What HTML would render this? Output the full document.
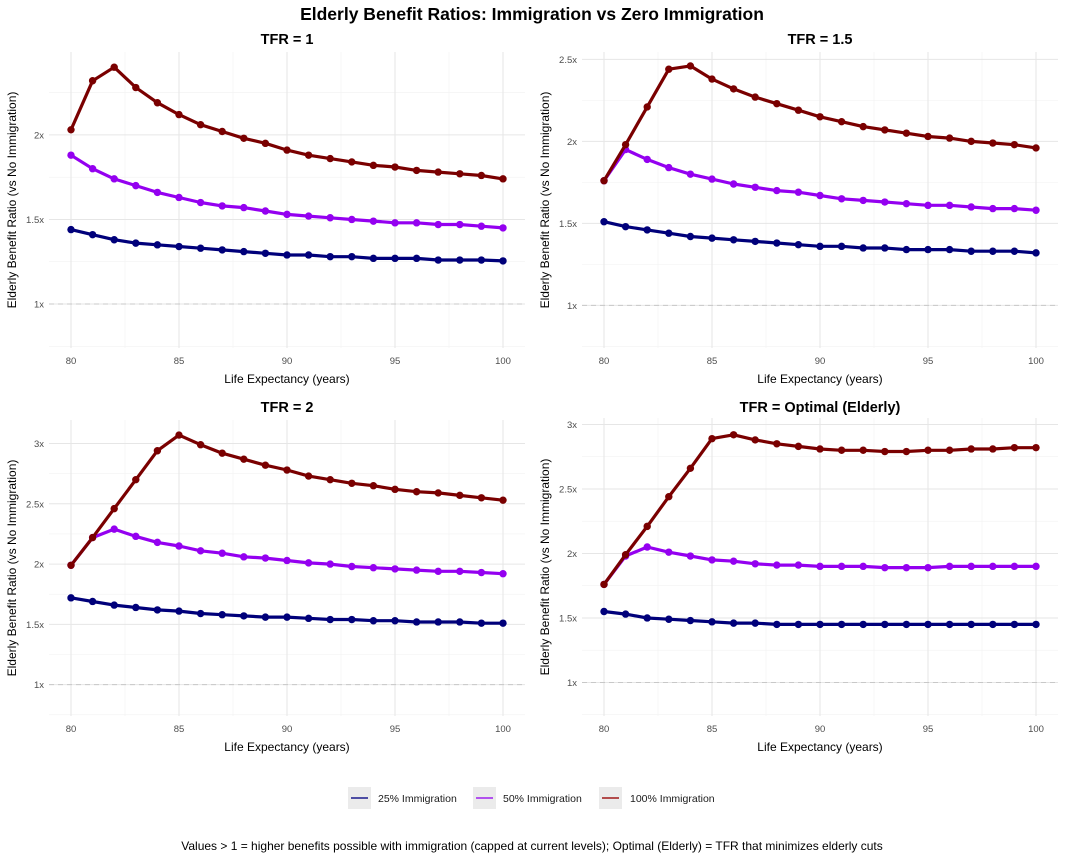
<!DOCTYPE html>
<html><head><meta charset="utf-8">
<style>
html,body{margin:0;padding:0;background:#fff;}
svg text{font-family:"Liberation Sans",Arial,sans-serif;}
</style></head>
<body>
<svg id="chart" width="1065" height="855" viewBox="0 0 1065 855" xmlns="http://www.w3.org/2000/svg">
<text x="532" y="20" text-anchor="middle" font-size="17.5" font-weight="bold" fill="#000">Elderly Benefit Ratios: Immigration vs Zero Immigration</text>
<g>
<rect x="348" y="787" width="23" height="22" fill="#ebebeb"/>
<line x1="351" y1="798" x2="368" y2="798" stroke="#1a1a8c" stroke-width="1.5"/>
<text x="378" y="802" font-size="10.5" fill="#1a1a1a">25% Immigration</text>
<rect x="473" y="787" width="23" height="22" fill="#ebebeb"/>
<line x1="476" y1="798" x2="493" y2="798" stroke="#a020f0" stroke-width="1.5"/>
<text x="503" y="802" font-size="10.5" fill="#1a1a1a">50% Immigration</text>
<rect x="599" y="787" width="23" height="22" fill="#ebebeb"/>
<line x1="602" y1="798" x2="619" y2="798" stroke="#a01818" stroke-width="1.5"/>
<text x="630" y="802" font-size="10.5" fill="#1a1a1a">100% Immigration</text>
</g>
<text x="532" y="850" text-anchor="middle" font-size="12" fill="#000">Values &gt; 1 = higher benefits possible with immigration (capped at current levels); Optimal (Elderly) = TFR that minimizes elderly cuts</text>
</svg>
<script>
const years = [80,81,82,83,84,85,86,87,88,89,90,91,92,93,94,95,96,97,98,99,100];
const seriesNames = ['25% Immigration','50% Immigration','100% Immigration'];
const seriesColors = ['#00007a','#9400f0','#7a0000'];
const panelTitles = ['TFR = 1','TFR = 1.5','TFR = 2','TFR = Optimal (Elderly)'];
const p1Blue = [1.44,1.41,1.38,1.36,1.35,1.34,1.33,1.32,1.31,1.30,1.29,1.29,1.28,1.28,1.27,1.27,1.27,1.26,1.26,1.26,1.255];
const p1Purple = [1.88,1.80,1.74,1.70,1.66,1.63,1.60,1.58,1.57,1.55,1.53,1.52,1.51,1.50,1.49,1.48,1.48,1.47,1.47,1.46,1.45];
const p1Red = [2.03,2.32,2.40,2.28,2.19,2.12,2.06,2.02,1.98,1.95,1.91,1.88,1.86,1.84,1.82,1.81,1.79,1.78,1.77,1.76,1.74];
const p2Blue = [1.51,1.48,1.46,1.44,1.42,1.41,1.40,1.39,1.38,1.37,1.36,1.36,1.35,1.35,1.34,1.34,1.34,1.33,1.33,1.33,1.32];
const p2Purple = [1.76,1.95,1.89,1.84,1.80,1.77,1.74,1.72,1.70,1.69,1.67,1.65,1.64,1.63,1.62,1.61,1.61,1.60,1.59,1.59,1.58];
const p2Red = [1.76,1.98,2.21,2.44,2.46,2.38,2.32,2.27,2.23,2.19,2.15,2.12,2.09,2.07,2.05,2.03,2.02,2.00,1.99,1.98,1.96];
const p3Blue = [1.72,1.69,1.66,1.64,1.62,1.61,1.59,1.58,1.57,1.56,1.56,1.55,1.54,1.54,1.53,1.53,1.52,1.52,1.52,1.51,1.51];
const p3Purple = [1.99,2.22,2.29,2.23,2.18,2.15,2.11,2.09,2.06,2.05,2.03,2.01,2.00,1.98,1.97,1.96,1.95,1.94,1.94,1.93,1.92];
const p3Red = [1.99,2.22,2.46,2.70,2.94,3.07,2.99,2.92,2.87,2.82,2.78,2.73,2.70,2.67,2.65,2.62,2.60,2.59,2.57,2.55,2.53];
const p4Blue = [1.55,1.53,1.50,1.49,1.48,1.47,1.46,1.46,1.45,1.45,1.45,1.45,1.45,1.45,1.45,1.45,1.45,1.45,1.45,1.45,1.45];
const p4Purple = [1.76,1.98,2.05,2.01,1.98,1.95,1.94,1.92,1.91,1.91,1.90,1.90,1.90,1.89,1.89,1.89,1.90,1.90,1.90,1.90,1.90];
const p4Red = [1.76,1.99,2.21,2.44,2.66,2.89,2.92,2.88,2.85,2.83,2.81,2.80,2.80,2.79,2.79,2.80,2.80,2.81,2.81,2.82,2.82];
const yTicks1 = [1,1.5,2];
const yTicks2 = [1,1.5,2,2.5];
const yTicks3 = [1,1.5,2,2.5,3];
const yTicks4 = [1,1.5,2,2.5,3];
const xTicks = [80,85,90,95,100];

const NS='http://www.w3.org/2000/svg';
const svg=document.getElementById('chart');
function mk(tag,attrs,parent){const e=document.createElementNS(NS,tag);for(const k in attrs)e.setAttribute(k,attrs[k]);(parent||svg).appendChild(e);return e;}

const panels=[
 {left:49,right:525,top:52,bottom:348,ymin:0.74,ymax:2.49,ticks:yTicks1,data:[p1Blue,p1Purple,p1Red],titleY:44},
 {left:582,right:1058,top:52,bottom:348,ymin:0.74,ymax:2.545,ticks:yTicks2,data:[p2Blue,p2Purple,p2Red],titleY:44},
 {left:49,right:525,top:420,bottom:716,ymin:0.74,ymax:3.195,ticks:yTicks3,data:[p3Blue,p3Purple,p3Red],titleY:412},
 {left:582,right:1058,top:418,bottom:716,ymin:0.74,ymax:3.05,ticks:yTicks4,data:[p4Blue,p4Purple,p4Red],titleY:412}
];
const x80=[71,604,71,604], x100=[503,1036,503,1036];

panels.forEach((p,i)=>{
  const g=mk('g',{});
  
  
  const xs=(x100[i]-x80[i])/20;
  const X=v=>x80[i]+(v-80)*xs;
  const Y=v=>p.bottom-(v-p.ymin)/(p.ymax-p.ymin)*(p.bottom-p.top);
  const tk=p.ticks;
  const minors=[tk[0]-0.25];
  tk.forEach(t=>minors.push(t+0.25));
  minors.forEach(m=>{ if(m>=p.ymin&&m<=p.ymax){mk('line',{x1:p.left,x2:p.right,y1:Y(m),y2:Y(m),stroke:'#f2f2f2','stroke-width':0.6},g);}});
  for(let v=82.5;v<101;v+=5){mk('line',{x1:X(v),x2:X(v),y1:p.top,y2:p.bottom,stroke:'#f2f2f2','stroke-width':0.6},g);}
  tk.forEach(t=>{
    const l=mk('line',{x1:p.left,x2:p.right,y1:Y(t),y2:Y(t),stroke:'#e6e6e6','stroke-width':1},g);
    
    const tx=mk('text',{x:p.left-5,y:Y(t)+3.5,'text-anchor':'end','font-size':9.5,fill:'#4d4d4d'},g);
    tx.textContent=t+'x';
    
    
  });
  xTicks.forEach(t=>{
    mk('line',{x1:X(t),x2:X(t),y1:p.top,y2:p.bottom,stroke:'#e6e6e6','stroke-width':1},g);
    const tx=mk('text',{x:X(t),y:p.bottom+16,'text-anchor':'middle','font-size':9.5,fill:'#4d4d4d'},g);
    tx.textContent=t;
    
    
  });
  const ref=mk('line',{x1:p.left,x2:p.right,y1:Y(1),y2:Y(1),stroke:'#c8c8c8','stroke-width':1,'stroke-dasharray':'5,4'},g);
  
  
  const tt=mk('text',{x:(x80[i]+x100[i])/2,y:p.titleY,'text-anchor':'middle','font-size':14.5,'font-weight':'bold',fill:'#000'},g);
  tt.textContent=panelTitles[i];
  
  
  const xt=mk('text',{x:(x80[i]+x100[i])/2,y:p.bottom+35,'text-anchor':'middle','font-size':12,fill:'#000'},g);
  xt.textContent='Life Expectancy (years)';
  
  
  const yx=(i%2===0)?16:549, yc=(p.top+p.bottom)/2;
  const yt=mk('text',{x:yx,y:yc,'text-anchor':'middle','font-size':12,fill:'#000',transform:'rotate(-90 '+yx+' '+yc+')'},g);
  yt.textContent='Elderly Benefit Ratio (vs No Immigration)';
  
  
  p.data.forEach((vals,s)=>{
    const pts=vals.map((v,k)=>X(years[k]).toFixed(1)+','+Y(v).toFixed(1)).join(' ');
    const pl=mk('polyline',{points:pts,fill:'none',stroke:seriesColors[s],'stroke-width':3.2,'stroke-linejoin':'round'},g);
    
    
    vals.forEach((v,k)=>{
      const c=mk('circle',{cx:X(years[k]),cy:Y(v),r:3.7,fill:seriesColors[s]},g);
      
      
    });
  });
});
</script>
</body></html>
